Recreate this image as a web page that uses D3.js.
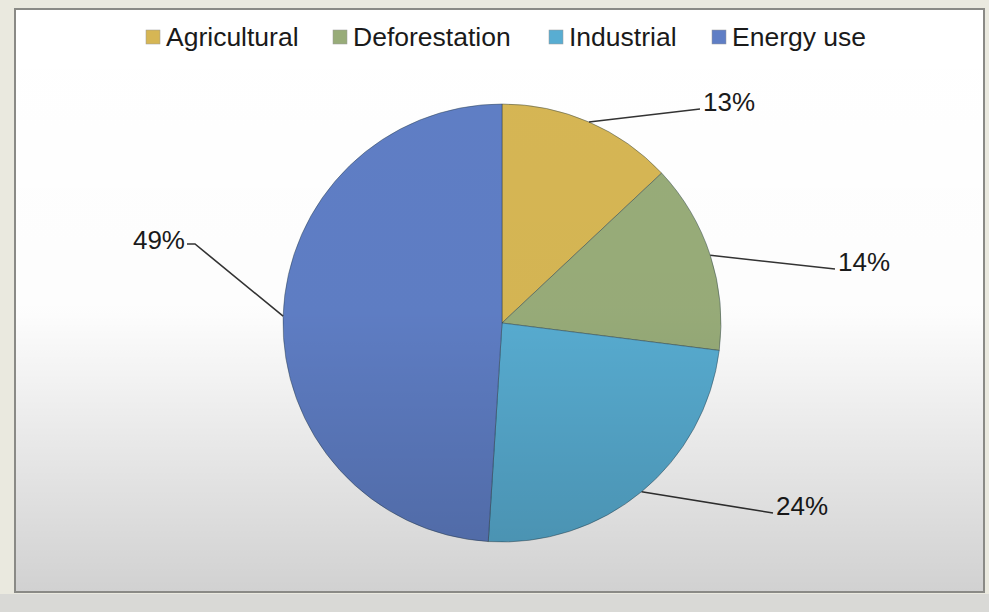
<!DOCTYPE html>
<html>
<head>
<meta charset="utf-8">
<script src="https://cdn.jsdelivr.net/npm/d3@7"></script>
<style>
  html, body { margin: 0; padding: 0; background: #e6e5dc; }
  svg { display: block; }
</style>
</head>
<body>
<div id="chart"></div>
<script>
// data
var categories = ["Agricultural", "Deforestation", "Industrial", "Energy use"];
var shares = [13, 14, 24, 49];
var sliceColors = ["#d6b654", "#98ac79", "#58add2", "#5f7ec5"];

// label anchor offsets from pie centre (layout only)
var labelOffsets = [[198, -214], [333, -54], [271, 190], [-315, -79]];

var W = 989, H = 612;
var cx = 502, cy = 323, r = 219;

var svg = d3.select('#chart')
  .append('svg')
  .attr('width', W)
  .attr('height', H);

var defs = svg.append('defs');
var shade = defs.append('linearGradient')
  .attr('id', 'shadeGrad')
  .attr('x1', 0).attr('y1', 0).attr('x2', 0).attr('y2', 1);
shade.append('stop').attr('offset', '0%').attr('stop-color', '#000').attr('stop-opacity', 0);
shade.append('stop').attr('offset', '52%').attr('stop-color', '#000').attr('stop-opacity', 0.01);
shade.append('stop').attr('offset', '100%').attr('stop-color', '#000').attr('stop-opacity', 0.18);

// outer strip + panel
svg.append('rect')
  .attr('x', 0).attr('y', 0).attr('width', W).attr('height', H)
  .attr('fill', '#eae9df');
svg.append('rect')
  .attr('x', 0).attr('y', 594).attr('width', W).attr('height', H - 594)
  .attr('fill', '#d9d9d6');
svg.append('rect')
  .attr('x', 15).attr('y', 9).attr('width', 969).attr('height', 583)
  .attr('fill', '#ffffff')
  .attr('stroke', '#8a8a86')
  .attr('stroke-width', 2);

// legend
var legendX = [146, 333, 549, 712];
var legend = svg.append('g').attr('class', 'legend');
categories.forEach(function (c, i) {
  legend.append('rect')
    .attr('x', legendX[i]).attr('y', 30)
    .attr('width', 14).attr('height', 14)
    .attr('fill', sliceColors[i])
    .attr('stroke', '#999')
    .attr('stroke-width', 0.5);
  legend.append('text')
    .attr('x', legendX[i] + 20)
    .attr('y', 46)
    .attr('font-family', 'Liberation Sans, Arial, sans-serif')
    .attr('font-size', '26.5px')
    .attr('fill', '#1a1a1a')
    .text(c);
});

// pie
var pie = d3.pie().sort(null).value(function (d) { return d; });
var arcs = pie(shares);
var arc = d3.arc().innerRadius(0).outerRadius(r);

var g = svg.append('g').attr('transform', 'translate(' + cx + ',' + cy + ')');

g.selectAll('path.slice')
  .data(arcs)
  .enter()
  .append('path')
  .attr('class', 'slice')
  .attr('d', arc)
  .attr('fill', function (d, i) { return sliceColors[i]; })
  .attr('stroke', 'rgba(40,60,70,0.45)')
  .attr('stroke-width', 1);

// leader lines + labels
arcs.forEach(function (d, i) {
  var mid = (d.startAngle + d.endAngle) / 2;
  var sx = Math.sin(mid) * r, sy = -Math.cos(mid) * r;
  var ex = labelOffsets[i][0], ey = labelOffsets[i][1];
  var left = ex < 0;
  var pts = left ? [[sx, sy], [ex + 8, ey], [ex, ey]] : [[sx, sy], [ex, ey]];
  g.append('path')
    .attr('d', d3.line()(pts))
    .attr('fill', 'none')
    .attr('stroke', '#333')
    .attr('stroke-width', 1.6);
  g.append('text')
    .attr('x', left ? ex - 2 : ex + 3)
    .attr('y', left ? ey + 5 : ey + 2)
    .attr('text-anchor', left ? 'end' : 'start')
    .attr('font-family', 'Liberation Sans, Arial, sans-serif')
    .attr('font-size', '26px')
    .attr('fill', '#1a1a1a')
    .text(shares[i] + '%');
});

// soft bottom shading over the panel
svg.append('rect')
  .attr('x', 16).attr('y', 10).attr('width', 967).attr('height', 581)
  .attr('fill', 'url(#shadeGrad)')
  .attr('pointer-events', 'none');
</script>
</body>
</html>
